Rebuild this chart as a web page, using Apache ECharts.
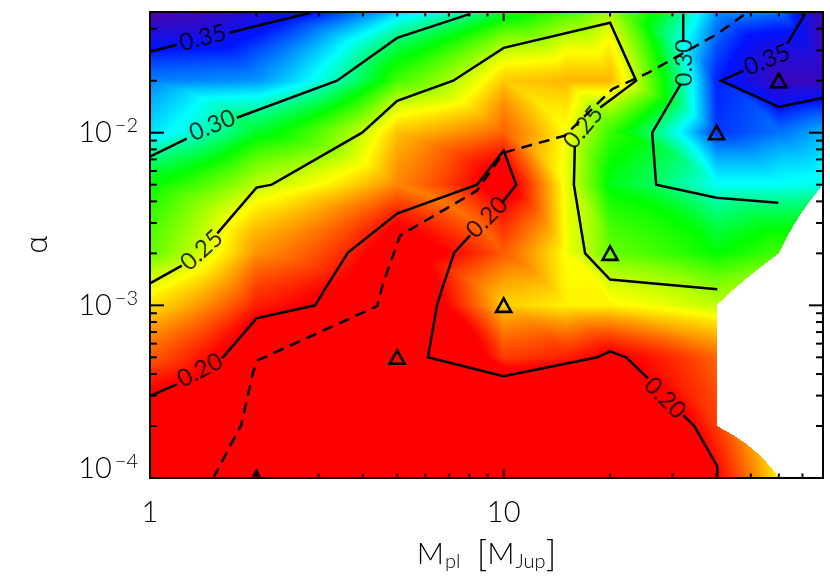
<!DOCTYPE html>
<html>
<head>
<meta charset="utf-8">
<style>html,body{margin:0;padding:0;background:#fff}#main{width:830px;height:576px}</style>
<script src="https://cdn.jsdelivr.net/npm/echarts@6/dist/echarts.min.js"></script>
</head>
<body>
<div id="main"></div>
<script>
// simulation grid
const masses = [1, 2, 5, 10, 15, 20, 40, 60, 80]
const alphas = [1e-4, 2e-4, 5e-4, 1e-3, 2e-3, 5e-3, 1e-2, 2e-2, 5e-2]
// one row per alpha, null = no run
const row1e4 = [0.175, 0.165, 0.155, 0.155, 0.157, 0.16, 0.2, 0.24, null]
const row2e4 = [0.19, 0.17, 0.16, 0.165, 0.168, 0.172, 0.21, null, null]
const row5e4 = [0.215, 0.185, 0.165, 0.21, 0.205, 0.197, 0.217, null, null]
const row1e3 = [0.237, 0.205, 0.18, 0.234, 0.24, 0.24, 0.252, null, null]
const row2e3 = [0.265, 0.224, 0.19, 0.215, 0.243, 0.265, 0.28, 0.27, null]
const row5e3 = [0.28, 0.252, 0.222, 0.19, 0.245, 0.283, 0.312, 0.312, 0.31]
const row1e2 = [0.318, 0.285, 0.232, 0.216, 0.243, 0.272, 0.345, 0.335, 0.325]
const row2e2 = [0.333, 0.33, 0.27, 0.233, 0.23, 0.23, 0.348, 0.376, 0.375]
const row5e2 = [0.385, 0.365, 0.32, 0.287, 0.27, 0.255, 0.329, 0.335, 0.38]
const valueRows = [row1e4, row2e4, row5e4, row1e3, row2e3, row5e3, row1e2, row2e2, row5e2]

// contours, null splits the line where a label sits
const contour35a = [[1, 0.0294], [1.19, 0.0323], null, [1.68, 0.0379], [2, 0.0415], [2.84, 0.0494]]
const contour35b = [[79.6, 0.0159], [60, 0.0141], [41.2, 0.02], [47.6, 0.0228], null, [63.4, 0.0327], [71.2, 0.0488]]
const contour30a = [[1, 0.00726], [1.27, 0.00923], null, [1.76, 0.0122], [3.38, 0.02], [5, 0.0354], [8.04, 0.0488]]
const contour30b = [[32.2, 0.0488], [32.2, 0.034], null, [31.7, 0.0192], [26.3, 0.01], [27, 0.005], [40, 0.0042], [59.8, 0.00393]]
const contour25 = [[1, 0.00134], [1.23, 0.0017], null, [1.55, 0.00261], [2, 0.00481], [2.21, 0.005], [3.98, 0.01], [5, 0.0153], [7.2, 0.02], [10, 0.031], [20, 0.0433], [23.7, 0.02], [20.4, 0.0159], [18.75, 0.014], null, [15.9, 0.00841], [15.8, 0.005], [17, 0.002], [20, 0.00141], [40.2, 0.00124]]
const contour20 = [[1, 2.98e-4], [1.19, 3.49e-4], null, [1.6, 4.94e-4], [2, 8.41e-4], [2.93, 1e-3], [3.13, 0.00125], [3.63, 0.00202], [5, 0.0034], [8.41, 0.005], [10, 0.00787], [10.85, 0.005], [9.9, 0.00393], null, [8.04, 0.00254], [7.25, 0.00202], [6.7, 0.00125], [6.48, 0.001], [6.11, 5e-4], [10, 3.89e-4], [18.4, 5e-4], [20, 5.42e-4], [22.2, 5e-4], [25.6, 3.78e-4], null, [32.2, 2.31e-4], [34.6, 2e-4], [40.2, 1.17e-4], [40.2, 1.01e-4]]
const dashedLine = [[1.51, 1e-4], [1.81, 2.02e-4], [1.96, 4.15e-4], [2.02, 4.81e-4], [4.39, 9.9e-4], [4.56, 0.00134], [5.1, 0.00254], [8.41, 0.00462], [10, 0.00765], [14.9, 0.00962], [20.3, 0.0179], [25.6, 0.0222], [40.2, 0.0373], [48.2, 0.0488]]

const contourLabels = [
  [1.41, 0.0354, '0.35', 14], [1.5, 0.011, '0.30', 22], [1.4, 0.00208, '0.25', 42], [1.385, 4.2e-4, '0.20', 27],
  [8.98, 0.00323, '0.20', 45], [28.6, 2.9e-4, '0.20', -45], [16.8, 0.0107, '0.25', 50], [32.4, 0.0254, '0.30', 90], [55.6, 0.0264, '0.35', 22]
]
const triangleMarks = [[2, 1e-4], [5, 5e-4], [10, 1e-3], [20, 2e-3], [40, 1e-2], [60, 2e-2]]

const xMajorTicks = [10]
const xMinorTicks = [2, 3, 4, 5, 6, 7, 8, 9, 20, 30, 40, 50, 60, 70]
const yMajorTicks = [1e-3, 1e-2]
const yMinorTicks = [2e-4, 3e-4, 4e-4, 5e-4, 6e-4, 7e-4, 8e-4, 9e-4, 2e-3, 3e-3, 4e-3, 5e-3, 6e-3, 7e-3, 8e-3, 9e-3, 2e-2, 3e-2, 4e-2]

const xMin = 1, xMax = 80, yMin = 1e-4, yMax = 0.05

// value -> colour
const colorStops = [
  [0.2, [255, 0, 0]], [0.242, [255, 255, 0]], [0.28, [0, 255, 0]], [0.313, [0, 255, 255]],
  [0.35, [0, 20, 255]], [0.39, [90, 0, 150]]
]
function colorOf(v) {
  if (v <= colorStops[0][0]) return colorStops[0][1]
  for (let i = 1; i < colorStops.length; i++) {
    if (v <= colorStops[i][0]) {
      let a = colorStops[i - 1], b = colorStops[i]
      let t = (v - a[0]) / (b[0] - a[0])
      return [a[1][0] + t * (b[1][0] - a[1][0]), a[1][1] + t * (b[1][1] - a[1][1]), a[1][2] + t * (b[1][2] - a[1][2])]
    }
  }
  return colorStops[colorStops.length - 1][1]
}

// triangles between grid nodes, skipping missing runs
let triangles = []
function addTri(a, b, c) {
  triangles.push([a[0], a[1], a[2], b[0], b[1], b[2], c[0], c[1], c[2]])
}
for (let j = 0; j < alphas.length - 1; j++) {
  for (let i = 0; i < masses.length - 1; i++) {
    let ll = [masses[i], alphas[j], valueRows[j][i]]
    let lr = [masses[i + 1], alphas[j], valueRows[j][i + 1]]
    let ul = [masses[i], alphas[j + 1], valueRows[j + 1][i]]
    let ur = [masses[i + 1], alphas[j + 1], valueRows[j + 1][i + 1]]
    let have = [ll, lr, ul, ur].filter(n => n[2] !== null)
    if (have.length === 4) {
      addTri(ll, ul, lr)
      addTri(ul, ur, lr)
    } else if (have.length === 3) {
      addTri(have[0], have[1], have[2])
    }
  }
}

// gouraud-style fill of one triangle, linear in data space like the original
function renderTriangle(params, api) {
  let n = []
  for (let k = 0; k < 3; k++) {
    n.push([api.value(k * 3), api.value(k * 3 + 1), api.value(k * 3 + 2)])
  }
  let left = api.coord([xMin, yMin])
  let right = api.coord([xMax, yMax])
  let pts = n.map(p => api.coord([p[0], p[1]]))
  let x0 = Math.floor(Math.min(pts[0][0], pts[1][0], pts[2][0]))
  let x1 = Math.ceil(Math.max(pts[0][0], pts[1][0], pts[2][0]))
  let y0 = Math.floor(Math.min(pts[0][1], pts[1][1], pts[2][1]))
  let y1 = Math.ceil(Math.max(pts[0][1], pts[1][1], pts[2][1]))
  let w = Math.max(1, x1 - x0), h = Math.max(1, y1 - y0)
  let canvas = document.createElement('canvas')
  canvas.width = w
  canvas.height = h
  let ctx = canvas.getContext('2d')
  let img = ctx.createImageData(w, h)
  let lx0 = Math.log10(xMin), lx1 = Math.log10(xMax), ly0 = Math.log10(yMin), ly1 = Math.log10(yMax)
  let d = (n[1][1] - n[2][1]) * (n[0][0] - n[2][0]) + (n[2][0] - n[1][0]) * (n[0][1] - n[2][1])
  for (let py = 0; py < h; py++) {
    let a = Math.pow(10, ly0 + (y0 + py + 0.5 - left[1]) / (right[1] - left[1]) * (ly1 - ly0))
    for (let px = 0; px < w; px++) {
      let m = Math.pow(10, lx0 + (x0 + px + 0.5 - left[0]) / (right[0] - left[0]) * (lx1 - lx0))
      let b0 = ((n[1][1] - n[2][1]) * (m - n[2][0]) + (n[2][0] - n[1][0]) * (a - n[2][1])) / d
      let b1 = ((n[2][1] - n[0][1]) * (m - n[2][0]) + (n[0][0] - n[2][0]) * (a - n[2][1])) / d
      let b2 = 1 - b0 - b1
      if (b0 < -1e-9 || b1 < -1e-9 || b2 < -1e-9) continue
      let c = colorOf(b0 * n[0][2] + b1 * n[1][2] + b2 * n[2][2])
      let o = (py * w + px) * 4
      img.data[o] = c[0]
      img.data[o + 1] = c[1]
      img.data[o + 2] = c[2]
      img.data[o + 3] = 255
    }
  }
  ctx.putImageData(img, 0, 0)
  return { type: 'image', style: { image: canvas, x: x0, y: y0, width: w, height: h } }
}

function renderTriangleMark(params, api) {
  let p = api.coord([api.value(0), api.value(1)])
  return {
    type: 'polygon',
    shape: { points: [[p[0], p[1] - 7], [p[0] + 7.5, p[1] + 6.5], [p[0] - 7.5, p[1] + 6.5]] },
    style: { fill: 'none', stroke: '#000', lineWidth: 2.6, lineJoin: 'miter' }
  }
}

function tickRenderer(horizontal, len) {
  return function (params, api) {
    let r = params.coordSys
    let p = api.coord([api.value(0), api.value(1)])
    let style = { stroke: '#000', lineWidth: 2 }
    if (horizontal) {
      return { type: 'group', children: [
        { type: 'line', shape: { x1: p[0], y1: r.y + r.height, x2: p[0], y2: r.y + r.height - len }, style: style },
        { type: 'line', shape: { x1: p[0], y1: r.y, x2: p[0], y2: r.y + len }, style: style }
      ] }
    }
    return { type: 'group', children: [
      { type: 'line', shape: { x1: r.x, y1: p[1], x2: r.x + len, y2: p[1] }, style: style },
      { type: 'line', shape: { x1: r.x + r.width, y1: p[1], x2: r.x + r.width - len, y2: p[1] }, style: style }
    ] }
  }
}

function lineSeries(points, dashed) {
  return {
    type: 'line',
    data: points.map(p => (p === null ? [null, null] : p)),
    connectNulls: false,
    showSymbol: false,
    symbol: 'none',
    silent: true,
    animation: false,
    z: 5,
    lineStyle: { color: '#000', width: 2.5, type: dashed ? [11, 7] : 'solid', cap: 'butt', join: 'miter' }
  }
}

const labelFont = 'Lato, "Open Sans", sans-serif'
const frame = { show: true, onZero: false, lineStyle: { color: '#000', width: 2 } }

let myChart = echarts.init(document.getElementById('main'), null, { renderer: 'canvas' })
let option = {
  animation: false,
  backgroundColor: '#fff',
  grid: { left: 150, right: 7, top: 12, bottom: 98, outerBoundsMode: 'none' },
  xAxis: [
    {
      type: 'log', min: xMin, max: xMax, z: 10,
      axisLine: frame, axisTick: { show: false }, splitLine: { show: false },
      axisLabel: {
        margin: 20, showMaxLabel: false, color: '#000', fontFamily: labelFont, fontWeight: 300, fontSize: 29,
        formatter: v => (v === 1 || v === 10 ? String(v) : '')
      },
      name: '{m|M}{s|pl}{m|  }{k|[}{m|M}{s|Jup}{k|]}',
      nameLocation: 'middle',
      nameGap: 58,
      nameTextStyle: {
        rich: {
          m: { fontFamily: labelFont, fontWeight: 300, fontSize: 30, color: '#000' },
          k: { fontFamily: labelFont, fontWeight: 300, fontSize: 36, color: '#000' },
          s: { fontFamily: labelFont, fontWeight: 300, fontSize: 20, color: '#000', verticalAlign: 'bottom', padding: [10, 0, 0, 1] }
        }
      }
    },
    { type: 'log', min: xMin, max: xMax, position: 'top', z: 10, axisLine: frame, axisTick: { show: false }, axisLabel: { show: false }, splitLine: { show: false } }
  ],
  yAxis: [
    {
      type: 'log', min: yMin, max: yMax, z: 10,
      axisLine: frame, axisTick: { show: false }, splitLine: { show: false },
      axisLabel: {
        margin: 12, showMaxLabel: false,
        formatter: v => {
          let e = Math.round(Math.log10(v))
          if (Math.abs(Math.log10(v) - e) > 1e-6) return ''
          let txt = '{b|10}{s|\u2212' + Math.abs(e) + '}'
          // lowest label sits above its tick in the reference
          return e === -4 ? txt + '\n{gap| }' : txt
        },
        rich: {
          b: { fontFamily: labelFont, fontWeight: 300, fontSize: 29, color: '#000' },
          s: { fontFamily: labelFont, fontWeight: 300, fontSize: 20, color: '#000', verticalAlign: 'top', padding: [0, 0, 14, 3] },
          gap: { fontSize: 1, height: 18, lineHeight: 18 }
        }
      },
      name: '\u03b1',
      nameLocation: 'middle',
      nameRotate: 90,
      nameGap: 97,
      nameTextStyle: { fontFamily: '"Open Sans", sans-serif', fontWeight: 300, fontSize: 30, color: '#000' }
    },
    { type: 'log', min: yMin, max: yMax, position: 'right', z: 10, axisLine: frame, axisTick: { show: false }, axisLabel: { show: false }, splitLine: { show: false } }
  ],
  series: [
    {
      type: 'custom', renderItem: renderTriangle, data: triangles, silent: true, clip: true, z: 1,
      encode: { x: [0, 3, 6], y: [1, 4, 7] }
    },
    lineSeries(contour35a), lineSeries(contour35b), lineSeries(contour30a), lineSeries(contour30b),
    lineSeries(contour25), lineSeries(contour20), lineSeries(dashedLine, true),
    {
      type: 'custom', renderItem: renderTriangleMark, data: triangleMarks, silent: true, clip: true, z: 6
    },
    {
      type: 'scatter', symbolSize: 0, silent: true, z: 7,
      data: contourLabels.map(l => ({
        value: [l[0], l[1]],
        label: {
          show: true, position: 'inside', formatter: l[2], rotate: l[3],
          fontFamily: labelFont, fontWeight: 400, fontSize: 24, color: '#000'
        }
      }))
    },
    { type: 'custom', renderItem: tickRenderer(true, 9), data: xMajorTicks.map(v => [v, yMin]), clip: false, silent: true, z: 8 },
    { type: 'custom', renderItem: tickRenderer(true, 4.5), data: xMinorTicks.map(v => [v, yMin]), clip: false, silent: true, z: 8 },
    { type: 'custom', renderItem: tickRenderer(false, 14), data: yMajorTicks.map(v => [xMin, v]), clip: false, silent: true, z: 8 },
    { type: 'custom', renderItem: tickRenderer(false, 7), data: yMinorTicks.map(v => [xMin, v]), clip: false, silent: true, z: 8 }
  ]
}
myChart.setOption(option)
</script>
</body>
</html>
